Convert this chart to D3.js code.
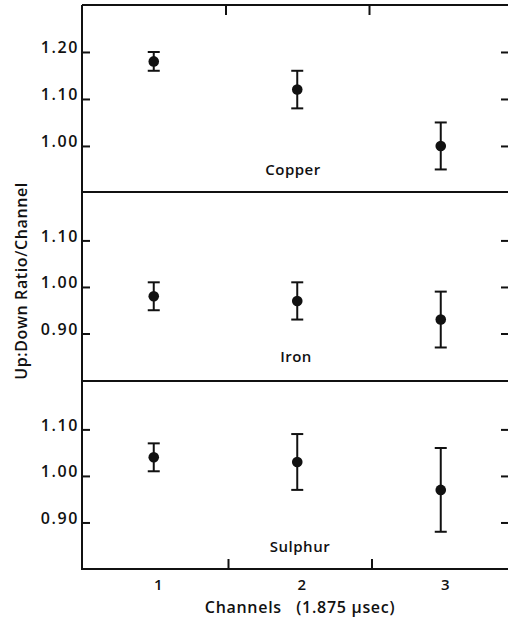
<!DOCTYPE html>
<html><head><meta charset="utf-8">
<script src="https://cdn.jsdelivr.net/npm/d3@7"></script>
<style>
html,body{margin:0;padding:0;background:#fff;}
svg text{font-family:"Open Sans",sans-serif;fill:#111;}
</style></head>
<body><svg id="c" width="508" height="629"></svg>
<script>
// ---- data ----
const channels = [1, 2, 3];
const panelNames = ["Copper", "Iron", "Sulphur"];
const copperVal = [1.18, 1.12, 1.00];
const copperLo  = [1.16, 1.08, 0.95];
const copperHi  = [1.20, 1.16, 1.05];
const ironVal = [0.98, 0.97, 0.93];
const ironLo  = [0.95, 0.93, 0.87];
const ironHi  = [1.01, 1.01, 0.99];
const sulphurVal = [1.04, 1.03, 0.97];
const sulphurLo  = [1.01, 0.97, 0.88];
const sulphurHi  = [1.07, 1.09, 1.06];
const copperTicks = [1.00, 1.10, 1.20];
const ironTicks = [0.90, 1.00, 1.10];
const sulphurTicks = [0.90, 1.00, 1.10];
const channelTickLabels = ["1", "2", "3"];
const dividerTicks = [1.5, 2.5];
const yLabel = "Up:Down Ratio/Channel";
const xLabel = "Channels\u00a0\u00a0\u00a0(1.875 \u00b5sec)";

// ---- layout ----
const svg = d3.select("#c");
const left = 82, right = 508;
const x = d3.scaleLinear().domain([0.5, 0.5 + (right - left) / 143.5]).range([left, right]);
const ink = "#111";

const panels = [
  {name: panelNames[0], val: copperVal, lo: copperLo, hi: copperHi, ticks: copperTicks,
   top: 5, bottom: 192, domain: [0.902, 1.3], labelY: 175, labelX: 293},
  {name: panelNames[1], val: ironVal, lo: ironLo, hi: ironHi, ticks: ironTicks,
   top: 192, bottom: 381, domain: [0.798, 1.204], labelY: 362, labelX: 296},
  {name: panelNames[2], val: sulphurVal, lo: sulphurLo, hi: sulphurHi, ticks: sulphurTicks,
   top: 381, bottom: 569, domain: [0.80, 1.204], labelY: 552, labelX: 300}
];

panels.forEach((p, pi) => {
  const y = d3.scaleLinear().domain(p.domain).range([p.bottom, p.top]);
  const g = svg.append("g");

  // left axis with inward ticks
  const ax = d3.axisRight(y).tickValues(p.ticks).tickSize(8).tickFormat(d3.format(".2f"));
  const axG = g.append("g").attr("transform", `translate(${left},0)`).call(ax);
  axG.select(".domain").remove();
  axG.selectAll(".tick line").attr("stroke", ink).attr("stroke-width", 2);
  axG.selectAll(".tick text").attr("x", -3).attr("dy", "0.05em")
    .attr("text-anchor", "end").style("font-size", "16px").style("font-weight", 600)
    .style("letter-spacing", "1.6px").style("font-family", '"Open Sans",sans-serif');

  // right ticks (inward)
  const axR = d3.axisLeft(y).tickValues(p.ticks).tickSize(7).tickFormat("");
  const arG = g.append("g").attr("transform", `translate(${right},0)`).call(axR);
  arG.select(".domain").remove();
  arG.selectAll(".tick line").attr("stroke", ink).attr("stroke-width", 2);

  // error bars
  const pts = channels.map((c, i) => ({c, v: p.val[i], lo: p.lo[i], hi: p.hi[i]}));
  const eb = g.selectAll(".eb").data(pts).enter().append("g");
  eb.append("line").attr("x1", d => x(d.c)).attr("x2", d => x(d.c))
    .attr("y1", d => y(d.lo)).attr("y2", d => y(d.hi)).attr("stroke", ink).attr("stroke-width", 2);
  eb.append("line").attr("x1", d => x(d.c) - 6).attr("x2", d => x(d.c) + 6)
    .attr("y1", d => y(d.hi)).attr("y2", d => y(d.hi)).attr("stroke", ink).attr("stroke-width", 2);
  eb.append("line").attr("x1", d => x(d.c) - 6).attr("x2", d => x(d.c) + 6)
    .attr("y1", d => y(d.lo)).attr("y2", d => y(d.lo)).attr("stroke", ink).attr("stroke-width", 2);
  eb.append("circle").attr("cx", d => x(d.c)).attr("cy", d => y(d.v)).attr("r", 5.3).attr("fill", ink);

  // panel name
  g.append("text").attr("x", p.labelX).attr("y", p.labelY).attr("text-anchor", "middle")
    .style("font-size", "15px").style("font-weight", 600).style("letter-spacing", "0.5px").text(p.name);
});

// frame lines: top border, dividers
const hLines = [5, 192, 381];
svg.selectAll(".hl").data(hLines).enter().append("line")
  .attr("x1", left).attr("x2", right).attr("y1", d => d).attr("y2", d => d)
  .attr("stroke", ink).attr("stroke-width", 2);

// top ticks hanging down
const topAx = d3.axisBottom(x).tickValues(dividerTicks).tickSize(10).tickFormat("");
const tG = svg.append("g").attr("transform", "translate(0,5)").call(topAx);
tG.select(".domain").remove();
tG.selectAll(".tick line").attr("stroke", ink).attr("stroke-width", 2);

// bottom axis
const botTickAx = d3.axisTop(x).tickValues(dividerTicks).tickSize(10).tickFormat("");
const bG = svg.append("g").attr("transform", "translate(2.5,569)").call(botTickAx);
bG.select(".domain").remove();
bG.selectAll(".tick line").attr("stroke", ink).attr("stroke-width", 2);
svg.append("line").attr("x1", left).attr("x2", right).attr("y1", 569).attr("y2", 569)
  .attr("stroke", ink).attr("stroke-width", 2);

const labAx = d3.axisBottom(x).tickValues(channels).tickSize(0)
  .tickFormat((d, i) => channelTickLabels[i]);
const lG = svg.append("g").attr("transform", "translate(4,569)").call(labAx);
lG.select(".domain").remove();
lG.selectAll(".tick text").attr("y", 21).attr("dy", 0).style("font-size", "15px")
  .style("font-weight", 600).style("font-family", '"Open Sans",sans-serif').attr("fill", ink);

// left axis line
svg.append("line").attr("x1", left).attr("x2", left).attr("y1", 5).attr("y2", 570)
  .attr("stroke", ink).attr("stroke-width", 2);

// axis titles
svg.append("text").attr("transform", "translate(27,281) rotate(-90)").attr("text-anchor", "middle")
  .style("font-size", "16px").style("font-weight", 600).style("letter-spacing", "0.6px").text(yLabel);
svg.append("text").attr("x", 300).attr("y", 613).attr("text-anchor", "middle")
  .style("font-size", "16px").style("font-weight", 600).style("letter-spacing", "0.7px")
  .text(xLabel);
</script></body></html>
